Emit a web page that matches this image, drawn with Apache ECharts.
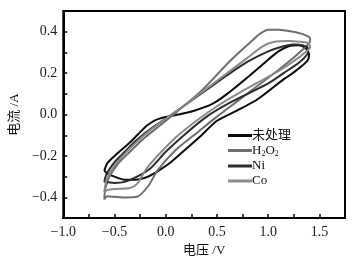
<!DOCTYPE html>
<html>
<head>
<meta charset="utf-8">
<script src="https://cdn.jsdelivr.net/npm/echarts@6/dist/echarts.min.js"></script>
<style>
  html, body { margin: 0; padding: 0; background: #fff; }
  #chart { width: 360px; height: 262px; }
</style>
</head>
<body>
<div id="chart"></div>
<script>
// CV loops, [potential V, current A], upper branch then return branch
const seriesNames = ['未处理', 'H2O2', 'Ni', 'Co'];

const untreated = [
  [-0.6, -0.27], [-0.57, -0.235], [-0.5, -0.2], [-0.42, -0.165], [-0.34, -0.13],
  [-0.25, -0.085], [-0.18, -0.052], [-0.1, -0.027], [0.0, -0.012], [0.17, 0.005],
  [0.3, 0.022], [0.45, 0.05], [0.6, 0.1], [0.8, 0.18], [1.0, 0.265], [1.1, 0.305],
  [1.2, 0.33], [1.3, 0.335], [1.37, 0.318], [1.4, 0.29],
  [1.38, 0.258], [1.24, 0.2], [1.15, 0.17], [0.9, 0.075], [0.7, 0.02], [0.5, -0.03],
  [0.35, -0.1], [0.2, -0.165], [0.05, -0.23], [-0.1, -0.28], [-0.2, -0.305],
  [-0.3, -0.315], [-0.4, -0.315], [-0.5, -0.3], [-0.57, -0.285], [-0.6, -0.27]
];

const h2o2 = [
  [-0.6, -0.41], [-0.59, -0.36], [-0.55, -0.3], [-0.47, -0.24], [-0.35, -0.18],
  [-0.2, -0.11], [-0.05, -0.05], [0.1, 0.01], [0.35, 0.115], [0.63, 0.26],
  [0.85, 0.36], [0.92, 0.39], [1.0, 0.41], [1.1, 0.41], [1.27, 0.397], [1.38, 0.38],
  [1.41, 0.365], [1.4, 0.345],
  [1.34, 0.315], [1.25, 0.275], [1.1, 0.215], [0.9, 0.14], [0.7, 0.065], [0.5, -0.01],
  [0.3, -0.09], [0.1, -0.17], [-0.08, -0.27], [-0.17, -0.345], [-0.28, -0.397],
  [-0.4, -0.4], [-0.5, -0.397], [-0.57, -0.395], [-0.6, -0.41]
];

const ni = [
  [-0.6, -0.325], [-0.58, -0.29], [-0.5, -0.23], [-0.4, -0.18], [-0.3, -0.13],
  [-0.15, -0.07], [0.0, -0.02], [0.2, 0.05], [0.4, 0.12], [0.6, 0.19], [0.8, 0.255],
  [1.0, 0.305], [1.15, 0.33], [1.25, 0.338], [1.34, 0.333], [1.39, 0.318],
  [1.38, 0.29], [1.3, 0.25], [1.15, 0.2], [1.0, 0.15], [0.8, 0.1], [0.6, 0.05],
  [0.4, -0.01], [0.2, -0.09], [0.0, -0.18], [-0.15, -0.26], [-0.3, -0.305],
  [-0.4, -0.325], [-0.5, -0.33], [-0.6, -0.325]
];

const co = [
  [-0.6, -0.375], [-0.58, -0.32], [-0.52, -0.26], [-0.42, -0.2], [-0.3, -0.14],
  [-0.15, -0.075], [0.0, -0.02], [0.2, 0.05], [0.4, 0.125], [0.6, 0.2], [0.8, 0.275],
  [0.95, 0.33], [1.05, 0.35], [1.2, 0.355], [1.3, 0.352], [1.39, 0.345], [1.41, 0.325],
  [1.36, 0.3], [1.25, 0.258], [1.1, 0.21], [0.9, 0.155], [0.7, 0.1], [0.5, 0.04],
  [0.3, -0.03], [0.1, -0.11], [-0.1, -0.21], [-0.2, -0.27], [-0.28, -0.335],
  [-0.35, -0.355], [-0.5, -0.36], [-0.57, -0.365], [-0.6, -0.375]
];

const seriesData = [untreated, h2o2, ni, co];
const colors = ['#0a0a0a', '#6e6e6e', '#2b2b2b', '#8a8a8a'];

const serif = "'Liberation Serif', 'Times New Roman', 'Noto Sans CJK SC', serif";

function fmtTick(v) {
  return v.toFixed(1).replace('-', '\u2212');
}

const chart = echarts.init(document.getElementById('chart'));

const option = {
  animation: false,
  grid: {
    left: 60,
    right: 15,
    top: 11,
    bottom: 42,
    show: true,
    borderColor: '#000',
    borderWidth: 2
  },
  legend: {
    data: seriesNames,
    orient: 'vertical',
    left: 228,
    top: 129,
    icon: 'rect',
    itemWidth: 24,
    itemHeight: 3,
    itemGap: 2,
    padding: 0,
    formatter: (name) => name === 'H2O2' ? 'H{sub|2}O{sub|2}' : name,
    textStyle: {
      fontFamily: serif,
      fontSize: 13,
      color: '#111',
      padding: [0, 0, 0, -5],
      rich: {
        sub: { fontSize: 8, verticalAlign: 'bottom', padding: [6, 0, 0, 0], fontFamily: serif }
      }
    }
  },
  xAxis: {
    type: 'value',
    min: -1,
    max: 1.75,
    interval: 0.25,
    name: '电压 /V',
    nameLocation: 'middle',
    nameGap: 25,
    nameTextStyle: { fontFamily: serif, fontSize: 13, color: '#111' },
    axisLine: { onZero: false, lineStyle: { color: '#000', width: 2 } },
    axisTick: { inside: true, length: 4, lineStyle: { color: '#000', width: 1.5 } },
    axisLabel: {
      margin: 7,
      fontFamily: serif,
      fontSize: 14,
      color: '#1a1a2e',
      formatter: (v) => (Math.abs(Math.round(v * 4)) % 2 === 0 && v < 1.7) ? fmtTick(v) : ''
    },
    splitLine: { show: false }
  },
  yAxis: {
    type: 'value',
    min: -0.5,
    max: 0.5,
    interval: 0.1,
    name: '电流 /A',
    nameLocation: 'middle',
    nameGap: 34,
    nameTextStyle: { fontFamily: serif, fontSize: 13, color: '#111' },
    axisLine: { onZero: false, lineStyle: { color: '#000', width: 2 } },
    axisTick: { inside: true, length: 4, lineStyle: { color: '#000', width: 1.5 } },
    axisLabel: {
      margin: 6,
      fontFamily: serif,
      fontSize: 14,
      color: '#1a1a2e',
      formatter: (v) => {
        const k = Math.round(v * 10);
        return (k % 2 === 0 && Math.abs(k) < 5) ? fmtTick(v) : '';
      }
    },
    splitLine: { show: false }
  },
  series: seriesNames.map((name, i) => ({
    name: name,
    type: 'line',
    data: seriesData[i],
    showSymbol: false,
    smooth: 0.25,
    color: colors[i],
    lineStyle: { width: 2, color: colors[i] }
  }))
};

chart.setOption(option);
</script>
</body>
</html>
